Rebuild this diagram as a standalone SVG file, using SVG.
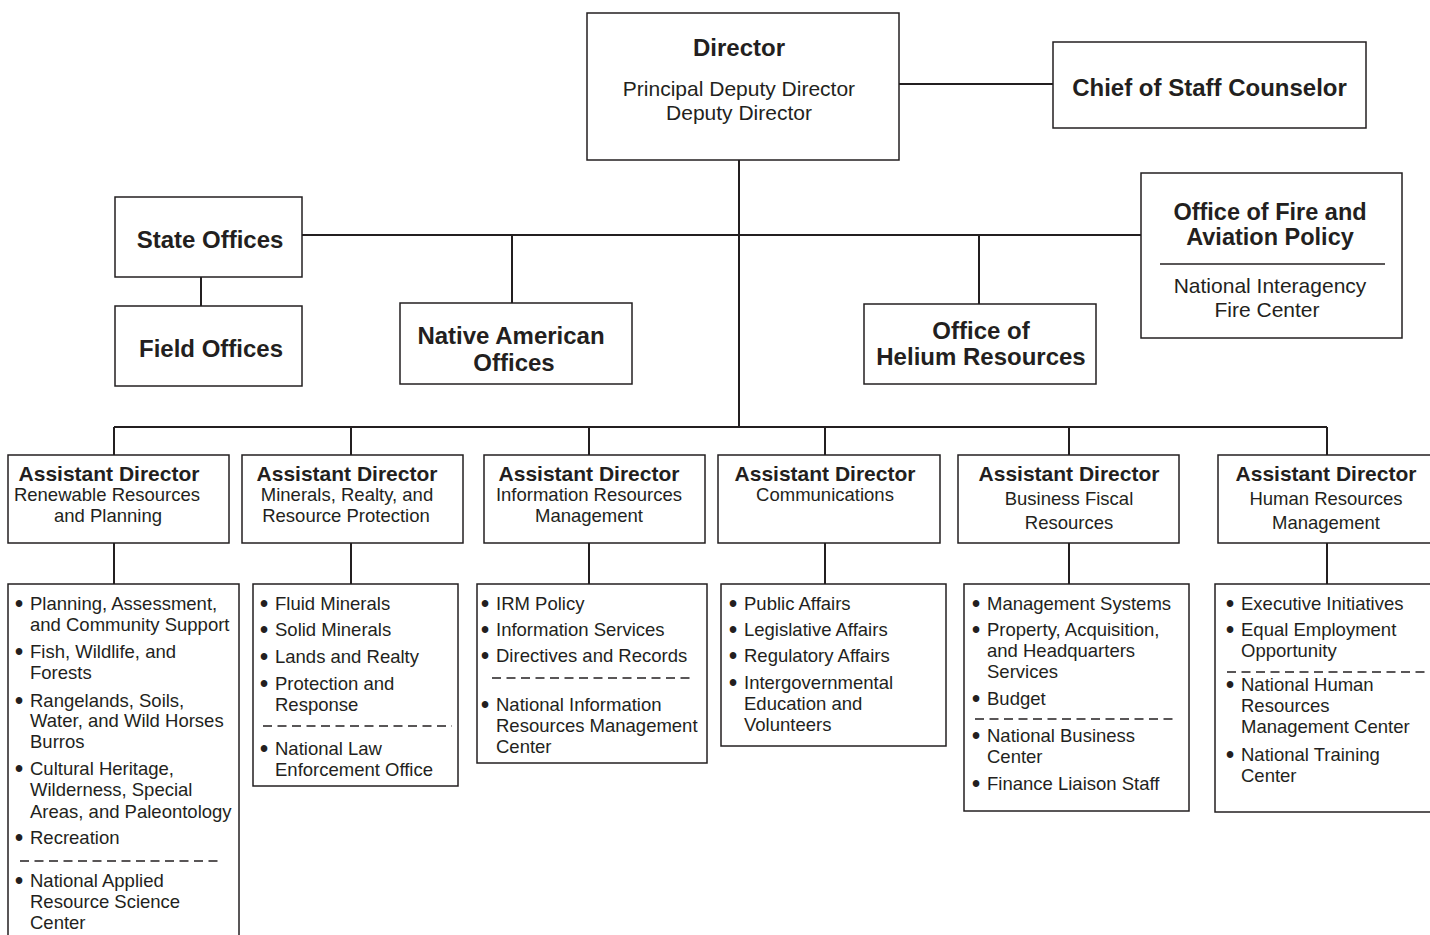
<svg xmlns="http://www.w3.org/2000/svg" width="1430" height="935" viewBox="0 0 1430 935">
<style>
.box{fill:#fff;stroke:#231f20;stroke-width:1.5}
.ln{stroke:#231f20;stroke-width:2;fill:none}
.sep{stroke:#231f20;stroke-width:1.3;fill:none}
.dash{stroke:#231f20;stroke-width:1.3;stroke-dasharray:9 5.5;fill:none}
text{font-family:"Liberation Sans",Arial,Helvetica,sans-serif;fill:#231f20}
.h24{font-size:24px;font-weight:bold;text-anchor:middle}
.h23{font-size:23.5px;font-weight:bold;text-anchor:middle}
.r21{font-size:21px;text-anchor:middle}
.h21{font-size:21px;font-weight:bold;text-anchor:middle}
.sub{font-size:18.5px;text-anchor:middle}
.li{font-size:18.5px}
.bu{font-size:23px;font-weight:bold}
</style>
<rect width="1430" height="935" fill="#fff"/>
<g id="connectors">
<path class="ln" d="M899 84H1053"/>
<path class="ln" d="M739 160V427"/>
<path class="ln" d="M302 235H1141"/>
<path class="ln" d="M512 235V303"/>
<path class="ln" d="M979 235V304"/>
<path class="ln" d="M201 277V306"/>
<path class="ln" d="M114 427H1327"/>
<path class="ln" d="M114 427V455M351 427V455M589 427V455M825 427V455M1069 427V455M1327 427V455"/>
<path class="ln" d="M114 543V584M351 543V584M589 543V584M825 543V584M1069 543V584M1327 543V584"/>
</g>
<g id="director">
<rect class="box" x="587" y="13" width="312" height="147"/>
<text class="h24" x="739" y="55.5">Director</text>
<text class="r21" x="739" y="95.5">Principal Deputy Director</text>
<text class="r21" x="739" y="119.5">Deputy Director</text>
</g>
<g id="chief">
<rect class="box" x="1053" y="42" width="313" height="86"/>
<text class="h24" x="1209.5" y="95.5">Chief of Staff Counselor</text>
</g>
<g id="state">
<rect class="box" x="115" y="197" width="187" height="80"/>
<text class="h24" x="210" y="247.5">State Offices</text>
</g>
<g id="field">
<rect class="box" x="115" y="306" width="187" height="80"/>
<text class="h24" x="211" y="356.5">Field Offices</text>
</g>
<g id="native">
<rect class="box" x="400" y="303" width="232" height="81"/>
<text class="h24" x="511" y="343.5">Native American</text>
<text class="h24" x="514" y="370.5">Offices</text>
</g>
<g id="helium">
<rect class="box" x="864" y="304" width="232" height="80"/>
<text class="h24" x="981" y="338.5">Office of</text>
<text class="h24" x="981" y="364.5">Helium Resources</text>
</g>
<g id="fire">
<rect class="box" x="1141" y="173" width="261" height="165"/>
<text class="h23" x="1270" y="219.5">Office of Fire and</text>
<text class="h23" x="1270" y="245">Aviation Policy</text>
<path class="sep" d="M1160 264H1385"/>
<text class="r21" x="1270" y="292.5">National Interagency</text>
<text class="r21" x="1267" y="316.5">Fire Center</text>
</g>
<g id="ad1">
<rect class="box" x="8" y="455" width="221" height="88"/>
<text class="h21" x="109" y="480.5">Assistant Director</text>
<text class="sub" x="107" y="500.5">Renewable Resources</text>
<text class="sub" x="108" y="521.5">and Planning</text>
</g>
<g id="ad2">
<rect class="box" x="242" y="455" width="221" height="88"/>
<text class="h21" x="347" y="480.5">Assistant Director</text>
<text class="sub" x="347" y="500.5">Minerals, Realty, and</text>
<text class="sub" x="346" y="521.5">Resource Protection</text>
</g>
<g id="ad3">
<rect class="box" x="484" y="455" width="221" height="88"/>
<text class="h21" x="589" y="480.5">Assistant Director</text>
<text class="sub" x="589" y="500.5">Information Resources</text>
<text class="sub" x="589" y="521.5">Management</text>
</g>
<g id="ad4">
<rect class="box" x="718" y="455" width="222" height="88"/>
<text class="h21" x="825" y="480.5">Assistant Director</text>
<text class="sub" x="825" y="500.5">Communications</text>
</g>
<g id="ad5">
<rect class="box" x="958" y="455" width="221" height="88"/>
<text class="h21" x="1069" y="480.5">Assistant Director</text>
<text class="sub" x="1069" y="504.5">Business Fiscal</text>
<text class="sub" x="1069" y="528.5">Resources</text>
</g>
<g id="ad6">
<rect class="box" x="1218" y="455" width="230" height="88"/>
<text class="h21" x="1326" y="480.5">Assistant Director</text>
<text class="sub" x="1326" y="504.5">Human Resources</text>
<text class="sub" x="1326" y="528.5">Management</text>
</g>
<g id="list1">
<rect class="box" x="8" y="584" width="231" height="370"/>
<text class="bu" x="15" y="612">•</text><text class="li" x="30" y="610">Planning, Assessment,</text>
<text class="li" x="30" y="631">and Community Support</text>
<text class="bu" x="15" y="660">•</text><text class="li" x="30" y="658">Fish, Wildlife, and</text>
<text class="li" x="30" y="679">Forests</text>
<text class="bu" x="15" y="709">•</text><text class="li" x="30" y="707">Rangelands, Soils,</text>
<text class="li" x="30" y="727">Water, and Wild Horses</text>
<text class="li" x="30" y="748">Burros</text>
<text class="bu" x="15" y="777">•</text><text class="li" x="30" y="775">Cultural Heritage,</text>
<text class="li" x="30" y="796">Wilderness, Special</text>
<text class="li" x="30" y="818">Areas, and Paleontology</text>
<text class="bu" x="15" y="846">•</text><text class="li" x="30" y="844">Recreation</text>
<path class="dash" d="M20 861H222"/>
<text class="bu" x="15" y="889">•</text><text class="li" x="30" y="887">National Applied</text>
<text class="li" x="30" y="908">Resource Science</text>
<text class="li" x="30" y="929">Center</text>
</g>
<g id="list2">
<rect class="box" x="253" y="584" width="205" height="202"/>
<text class="bu" x="260" y="612">•</text><text class="li" x="275" y="610">Fluid Minerals</text>
<text class="bu" x="260" y="638">•</text><text class="li" x="275" y="636">Solid Minerals</text>
<text class="bu" x="260" y="665">•</text><text class="li" x="275" y="663">Lands and Realty</text>
<text class="bu" x="260" y="692">•</text><text class="li" x="275" y="690">Protection and</text>
<text class="li" x="275" y="711">Response</text>
<path class="dash" d="M263 726H452"/>
<text class="bu" x="260" y="757">•</text><text class="li" x="275" y="755">National Law</text>
<text class="li" x="275" y="776">Enforcement Office</text>
</g>
<g id="list3">
<rect class="box" x="477" y="584" width="230" height="179"/>
<text class="bu" x="481" y="612">•</text><text class="li" x="496" y="610">IRM Policy</text>
<text class="bu" x="481" y="638">•</text><text class="li" x="496" y="636">Information Services</text>
<text class="bu" x="481" y="664">•</text><text class="li" x="496" y="662">Directives and Records</text>
<path class="dash" d="M492 678H692"/>
<text class="bu" x="481" y="713">•</text><text class="li" x="496" y="711">National Information</text>
<text class="li" x="496" y="732">Resources Management</text>
<text class="li" x="496" y="753">Center</text>
</g>
<g id="list4">
<rect class="box" x="721" y="584" width="225" height="162"/>
<text class="bu" x="729" y="612">•</text><text class="li" x="744" y="610">Public Affairs</text>
<text class="bu" x="729" y="638">•</text><text class="li" x="744" y="636">Legislative Affairs</text>
<text class="bu" x="729" y="664">•</text><text class="li" x="744" y="662">Regulatory Affairs</text>
<text class="bu" x="729" y="691">•</text><text class="li" x="744" y="689">Intergovernmental</text>
<text class="li" x="744" y="710">Education and</text>
<text class="li" x="744" y="731">Volunteers</text>
</g>
<g id="list5">
<rect class="box" x="964" y="584" width="225" height="227"/>
<text class="bu" x="972" y="612">•</text><text class="li" x="987" y="610">Management Systems</text>
<text class="bu" x="972" y="638">•</text><text class="li" x="987" y="636">Property, Acquisition,</text>
<text class="li" x="987" y="657">and Headquarters</text>
<text class="li" x="987" y="678">Services</text>
<text class="bu" x="972" y="707">•</text><text class="li" x="987" y="705">Budget</text>
<path class="dash" d="M975 719H1174"/>
<text class="bu" x="972" y="744">•</text><text class="li" x="987" y="742">National Business</text>
<text class="li" x="987" y="763">Center</text>
<text class="bu" x="972" y="792">•</text><text class="li" x="987" y="790">Finance Liaison Staff</text>
</g>
<g id="list6">
<rect class="box" x="1215" y="584" width="230" height="228"/>
<text class="bu" x="1226" y="612">•</text><text class="li" x="1241" y="610">Executive Initiatives</text>
<text class="bu" x="1226" y="638">•</text><text class="li" x="1241" y="636">Equal Employment</text>
<text class="li" x="1241" y="657">Opportunity</text>
<path class="dash" d="M1227 672H1430"/>
<text class="bu" x="1226" y="693">•</text><text class="li" x="1241" y="691">National Human</text>
<text class="li" x="1241" y="712">Resources</text>
<text class="li" x="1241" y="733">Management Center</text>
<text class="bu" x="1226" y="763">•</text><text class="li" x="1241" y="761">National Training</text>
<text class="li" x="1241" y="782">Center</text>
</g>
</svg>
